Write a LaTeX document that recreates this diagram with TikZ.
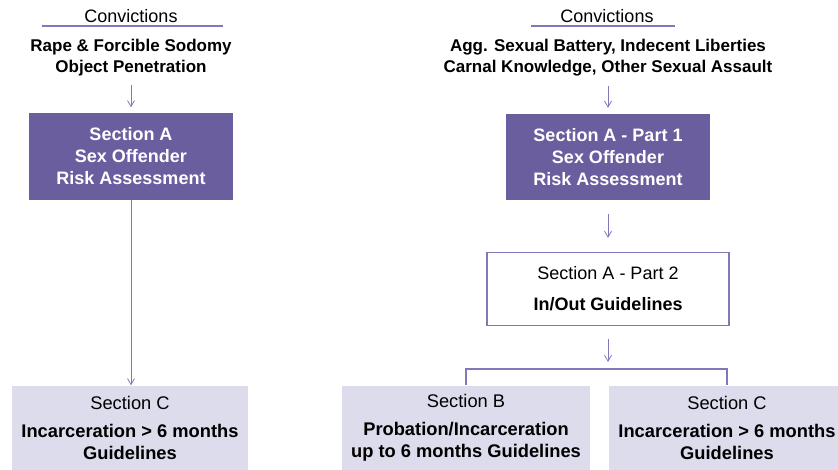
\documentclass[tikz,border=0pt]{standalone}
\usepackage{fontspec}
\setmainfont{Liberation Sans}
\usepackage{tikz}
\usetikzlibrary{arrows.meta,positioning}

\definecolor{boxpurple}{HTML}{6A5E9E}
\definecolor{boxlight}{HTML}{DDDCEC}
\definecolor{linepurple}{HTML}{7F78BA}

\begin{document}
\begin{tikzpicture}[x=1pt,y=-1pt,
		every node/.style={font=\fontsize{18}{22}\selectfont,inner sep=0pt},
		arr/.style={draw=linepurple,line width=0.8pt,-{Straight Barb[length=6pt,width=7pt]}},
		uline/.style={draw=linepurple,line width=1.1pt},
		offence/.style={anchor=north,align=center,font=\fontsize{17}{21}\selectfont\bfseries},
		darkbox/.style={fill=boxpurple,text=white,font=\fontsize{18}{22}\selectfont\bfseries,align=center},
		lightbox/.style={fill=boxlight,align=center,font=\fontsize{18.3}{22}\selectfont},
		openbox/.style={draw=linepurple,fill=white,line width=1.2pt,align=center}]
		\useasboundingbox (0,0) rectangle (838,469);

		% left column
		\node[anchor=base] (convl) at (131,22) {Convictions};
		\draw[uline] (42,26) -- (223,26);
		\node[offence] (offl) at (131,39) {Rape \& Forcible Sodomy\\Object Penetration};
		\node[darkbox,minimum width=204pt,minimum height=87pt] (secA) at (131,156.5) {Section A\\Sex Offender\\Risk Assessment};
		\node[lightbox,minimum width=236pt,minimum height=84pt] (secCl) at (130,427.5) {Section C\\[6pt]\textbf{Incarceration > 6 months}\\\textbf{Guidelines}};

		\draw[arr,shorten <=9pt,shorten >=5.5pt] (offl) -- (secA);
		\draw[arr] (secA.south) -- (secA.south |- secCl.north);

		% right column
		\node[anchor=base] (convr) at (607,22) {Convictions};
		\draw[uline] (531,26) -- (675,26);
		\node[offence] (offr) at (608,39) {Agg. Sexual Battery, Indecent Liberties\\Carnal Knowledge, Other Sexual Assault};
		\node[darkbox,minimum width=204pt,minimum height=86pt] (secAone) at (608,157) {Section A - Part 1\\Sex Offender\\Risk Assessment};
		\node[openbox,minimum width=242pt,minimum height=73pt] (secAtwo) at (608,289) {Section A - Part 2\\[9pt]\textbf{In/Out Guidelines}};
		\node[lightbox,minimum width=248pt,minimum height=84pt] (secB) at (466,427.5) {Section B\\[6pt]\textbf{Probation/Incarceration}\\\textbf{up to 6 months Guidelines}};
		\node[lightbox,minimum width=236pt,minimum height=84pt] (secCr) at (727,427.5) {Section C\\[6pt]\textbf{Incarceration > 6 months}\\\textbf{Guidelines}};
		\coordinate (split) at (608,369);

		\draw[arr,shorten <=10pt,shorten >=6pt] (offr) -- (secAone);
		\draw[arr,shorten <=14pt,shorten >=14pt] (secAone) -- (secAtwo);
		\draw[arr,shorten <=12.5pt,shorten >=7pt] (secAtwo) -- (split);
		\draw[draw=linepurple,line width=1.4pt] (secB.north) |- (split) -| (secCr.north);
\end{tikzpicture}
\end{document}
